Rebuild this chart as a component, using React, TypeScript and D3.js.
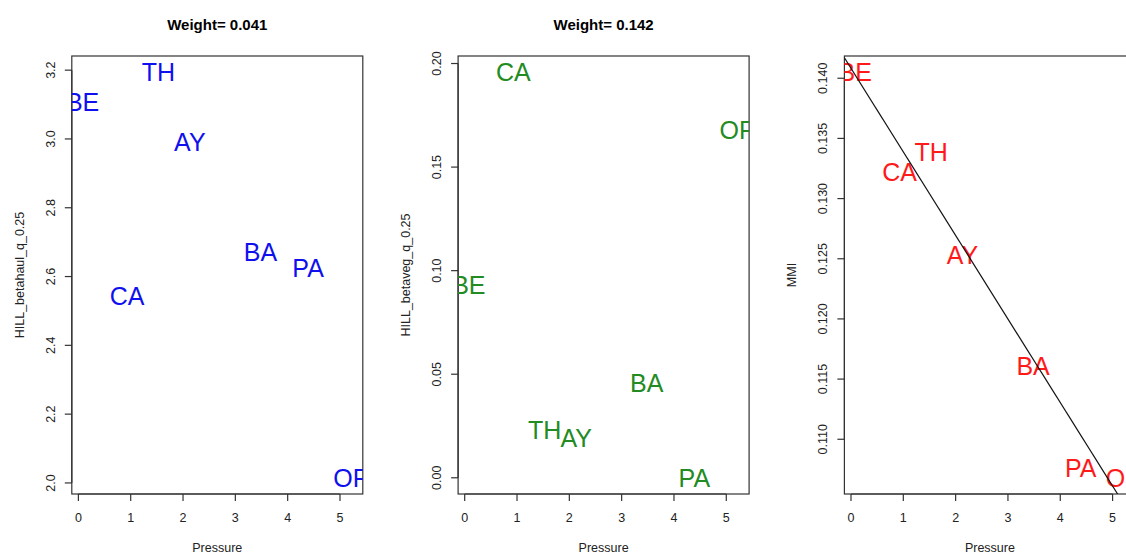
import React, { useEffect, useRef } from 'react';
import * as d3 from 'd3';

// sites and their values
const sites = ['BE', 'CA', 'TH', 'AY', 'BA', 'PA', 'OR'];
const pressure = [0.08, 0.93, 1.53, 2.13, 3.48, 4.39, 5.23];
const hillBetahaul = [3.107, 2.542, 3.194, 2.99, 2.672, 2.626, 2.015];
const hillBetaveg = [0.0931, 0.1958, 0.0229, 0.0193, 0.0457, 0.0, 0.168];
const mmi = [0.1405, 0.1322, 0.1339, 0.1253, 0.1161, 0.1076, 0.1068];

const xTicks = [0, 1, 2, 3, 4, 5];
const haulTicks = [2.0, 2.2, 2.4, 2.6, 2.8, 3.0, 3.2];
const vegTicks = [0, 0.05, 0.1, 0.15, 0.2];
const mmiTicks = [0.11, 0.115, 0.12, 0.125, 0.13, 0.135, 0.14];

const panels = [
    { title: 'Weight= 0.041', ylab: 'HILL_betahaul_q_0.25', values: hillBetahaul, ticks: haulTicks, fmt: '.1f', color: '#1010ee', fit: false },
    { title: 'Weight= 0.142', ylab: 'HILL_betaveg_q_0.25', values: hillBetaveg, ticks: vegTicks, fmt: '.2f', color: '#228b22', fit: false },
    { title: '', ylab: 'MMI', values: mmi, ticks: mmiTicks, fmt: '.3f', color: '#ff1a1a', fit: true },
];

const FONT = 'Liberation Sans, Arial, Helvetica, sans-serif';
const AXIS = '#333';

// R style axis range: data extent plus 4% each side
const pad = (arr: number[]) => {
    const [a, b] = d3.extent(arr) as [number, number];
    const d = (b - a) * 0.04;
    return [a - d, b + d];
};

// least squares line, like abline(lm(y ~ x))
const fitLine = (xs: number[], ys: number[]) => {
    const mx = d3.mean(xs) as number;
    const my = d3.mean(ys) as number;
    const sxy = d3.sum(xs, (x, i) => (x - mx) * (ys[i] - my));
    const sxx = d3.sum(xs, x => (x - mx) * (x - mx));
    const slope = sxy / sxx;
    return { slope, intercept: my - slope * mx };
};

const App = () => {
    const ref = useRef<SVGSVGElement>(null);

    useEffect(() => {
        const svg = d3.select(ref.current);
        svg.selectAll('*').remove();

        const top = 56, bottom = 494, width = 291;

        panels.forEach((p, i) => {
            const left = 71.8 + i * 386.3;
            const right = left + width;
            const x = d3.scaleLinear().domain(pad(pressure)).range([left, right]);
            const y = d3.scaleLinear().domain(pad(p.values)).range([bottom, top]);
            const g = svg.append('g').attr('font-family', FONT);

            g.append('clipPath').attr('id', `clip${i}`)
                .append('rect')
                .attr('x', left).attr('y', top)
                .attr('width', width).attr('height', bottom - top);

            // title
            if (p.title) {
                g.append('text')
                    .attr('x', (left + right) / 2).attr('y', 30)
                    .attr('text-anchor', 'middle')
                    .attr('font-weight', 'bold')
                    .attr('font-size', 15)
                    .text(p.title);
            }

            // box
            g.append('rect')
                .attr('x', left).attr('y', top)
                .attr('width', width).attr('height', bottom - top)
                .attr('fill', 'none').attr('stroke', AXIS).attr('stroke-width', 1.2);

            // x axis
            g.append('line')
                .attr('x1', x(xTicks[0])).attr('x2', x(xTicks[xTicks.length - 1]))
                .attr('y1', bottom).attr('y2', bottom)
                .attr('stroke', AXIS).attr('stroke-width', 1.2);
            const xt = g.selectAll('g.xt').data(xTicks).enter().append('g').attr('class', 'xt');
            xt.append('line')
                .attr('x1', d => x(d)).attr('x2', d => x(d))
                .attr('y1', bottom).attr('y2', bottom + 7)
                .attr('stroke', AXIS).attr('stroke-width', 1.2);
            xt.append('text')
                .attr('x', d => x(d)).attr('y', bottom + 28)
                .attr('text-anchor', 'middle')
                .attr('font-size', 12.5).attr('fill', '#222')
                .text(d => d);
            g.append('text')
                .attr('x', (left + right) / 2).attr('y', bottom + 58)
                .attr('text-anchor', 'middle')
                .attr('font-size', 12.5).attr('fill', '#222')
                .text('Pressure');

            // y axis
            const f = d3.format(p.fmt);
            g.append('line')
                .attr('x1', left).attr('x2', left)
                .attr('y1', y(p.ticks[0])).attr('y2', y(p.ticks[p.ticks.length - 1]))
                .attr('stroke', AXIS).attr('stroke-width', 1.2);
            const yt = g.selectAll('g.yt').data(p.ticks).enter().append('g').attr('class', 'yt');
            yt.append('line')
                .attr('x1', left - 7).attr('x2', left)
                .attr('y1', d => y(d)).attr('y2', d => y(d))
                .attr('stroke', AXIS).attr('stroke-width', 1.2);
            yt.append('text')
                .attr('transform', d => `translate(${left - 17},${y(d)}) rotate(-90)`)
                .attr('text-anchor', 'middle')
                .attr('font-size', 12.5).attr('fill', '#222')
                .text(d => f(d));
            g.append('text')
                .attr('transform', `translate(${left - 48},${(top + bottom) / 2}) rotate(-90)`)
                .attr('text-anchor', 'middle')
                .attr('font-size', 12.5).attr('fill', '#222')
                .text(p.ylab);

            // site labels, clipped to the plot region
            const inner = g.append('g').attr('clip-path', `url(#clip${i})`);
            inner.selectAll('text.site').data(sites).enter().append('text')
                .attr('class', 'site')
                .attr('x', (d, j) => x(pressure[j]))
                .attr('y', (d, j) => y(p.values[j]) + 9)
                .attr('text-anchor', 'middle')
                .attr('font-size', 25)
                .attr('fill', p.color)
                .text(d => d);

            if (p.fit) {
                const { slope, intercept } = fitLine(pressure, p.values);
                const [x0, x1] = x.domain();
                inner.append('line')
                    .attr('x1', x(x0)).attr('y1', y(intercept + slope * x0))
                    .attr('x2', x(x1)).attr('y2', y(intercept + slope * x1))
                    .attr('stroke', '#111').attr('stroke-width', 1.2);
            }
        });
    }, []);

    return (
        <svg ref={ref} width={1126} height={554}
             style={{ position: 'absolute', left: 0, top: 0, background: '#fff' }} />
    );
};

export default App;
